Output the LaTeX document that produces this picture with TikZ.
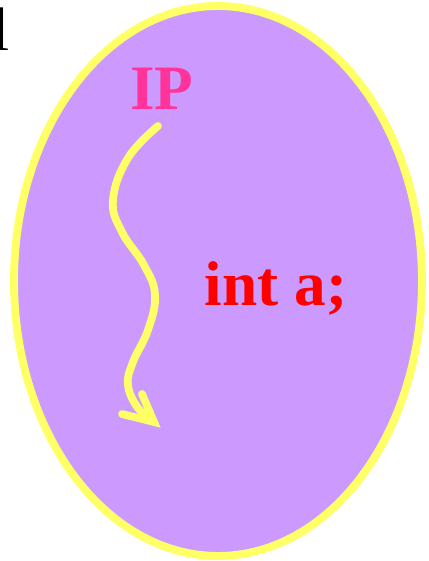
\documentclass[tikz,border=0pt]{standalone}
\usepackage{fontspec}
\setmainfont{Liberation Serif}
\usepackage{xcolor}
\definecolor{ipviolet}{RGB}{204,153,255}
\definecolor{ipyellow}{RGB}{255,255,102}
\definecolor{ippink}{RGB}{255,51,153}
\definecolor{ipred}{RGB}{255,0,0}
\usetikzlibrary{positioning}

\tikzset{
  bigtext/.style={inner sep=0pt, anchor=base, font=\fontsize{36}{40}\selectfont\bfseries},
  flowline/.style={draw=ipyellow, line width=4.4pt, line cap=round, line join=round}
}

\begin{document}
\begin{tikzpicture}[x=0.02cm, y=-0.02cm]
  % page frame
  \useasboundingbox (0,0) rectangle (429,561);

  % cut-off letter at the top left
  \node[inner sep=0pt, anchor=base east, font=\fontsize{35}{40}\selectfont] (cutletter) at (10,51) {l};

  % the process
  \draw[fill=ipviolet, draw=ipyellow, line width=4.5pt] (218,281) ellipse [x radius=204, y radius=275];

  % labels
  \node[bigtext, ippink] (ip) at (162,109) {IP};
  \node[bigtext, ipred] (inta) at (276,305) {int a;};

  % wavy path of the instruction pointer
  \coordinate (flowtop) at (158,126);
  \coordinate (flowtip) at (154,422);
  \coordinate (barbright) at (142,394);
  \coordinate (barbleft) at (122,414);
  \draw[flowline] plot[smooth, tension=0.7] coordinates {(flowtop) (128,158) (113,200) (122,232) (144,265) (155,295) (148,330) (133,362) (128,385) (138,408) (flowtip)};
  \draw[flowline, line join=miter] (barbright) -- (flowtip) -- (barbleft);
\end{tikzpicture}
\end{document}
